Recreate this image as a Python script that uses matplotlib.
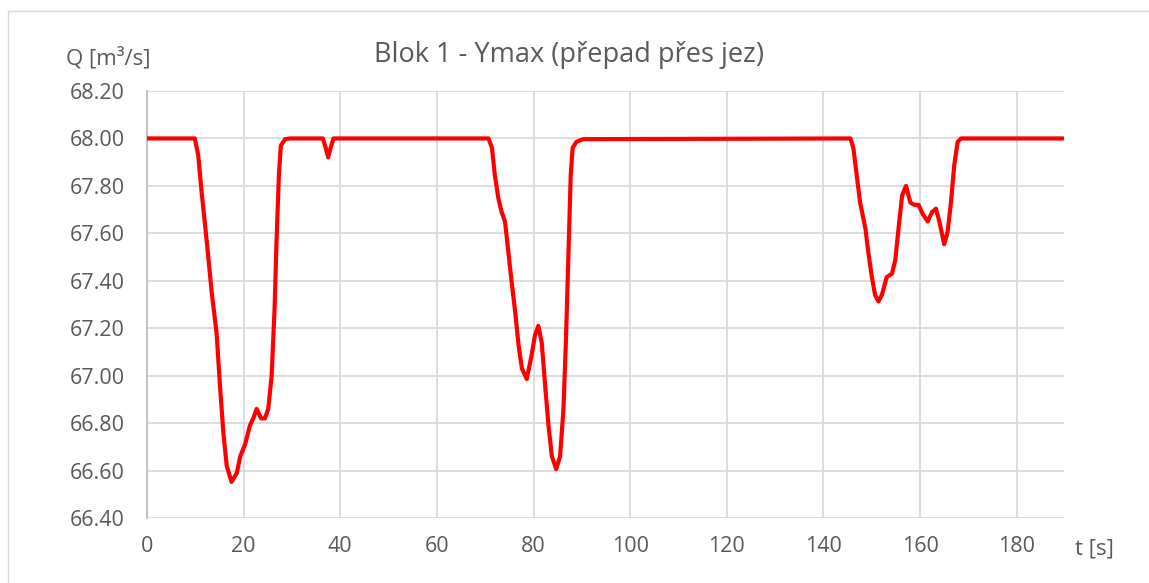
import matplotlib
matplotlib.use("Agg")
import matplotlib.pyplot as plt
from matplotlib.patches import Rectangle

# Discharge over the weir, Q [m3/s] vs time t [s]
t = [0, 9.9, 10.6, 11.3, 12.4, 13.4, 14.4, 15.1, 15.8, 16.5, 17.5, 18.6, 19.3,
     20.3, 21.3, 22.0, 22.7, 23.6, 24.4, 25.1, 25.8, 26.4, 26.8, 27.3, 27.7,
     28.6, 29.6,
     36.4, 37.0, 37.5, 38.0, 38.6,
     70.7, 71.4, 72.0, 72.7, 73.4, 74.1, 74.8, 75.5, 76.2, 76.9, 77.6, 78.6,
     79.6, 80.3, 81.0, 81.7, 82.4, 83.1, 83.8, 84.7, 85.5, 86.2, 86.7, 87.2,
     87.7, 88.1, 88.9, 90.3,
     145.6, 146.2, 146.9, 147.6, 148.7, 149.3, 150.0, 150.7, 151.4, 152.1,
     153.1, 154.2, 154.9, 155.6, 156.3, 157.1, 158.0, 158.8, 159.7, 160.6,
     161.6, 162.5, 163.3, 164.0, 165.0, 165.7, 166.4, 167.1, 167.8, 168.5,
     189.6]
q = [68.0, 68.0, 67.93, 67.775, 67.56, 67.35, 67.18, 66.96, 66.76, 66.62,
     66.552, 66.59, 66.66, 66.71, 66.79, 66.82, 66.86, 66.82, 66.82, 66.86,
     67.0, 67.28, 67.56, 67.845, 67.97, 67.997, 68.0,
     68.0, 67.96, 67.92, 67.96, 68.0,
     68.0, 67.96, 67.845, 67.75, 67.69, 67.65, 67.52, 67.39, 67.27, 67.13,
     67.03, 66.986, 67.085, 67.17, 67.21, 67.14, 66.96, 66.79, 66.66, 66.606,
     66.66, 66.86, 67.14, 67.49, 67.845, 67.96, 67.986, 67.997,
     68.0, 67.96, 67.845, 67.73, 67.62, 67.52, 67.42, 67.34, 67.313, 67.34,
     67.415, 67.43, 67.49, 67.63, 67.76, 67.80, 67.73, 67.72, 67.72, 67.68,
     67.65, 67.69, 67.704, 67.65, 67.554, 67.605, 67.73, 67.89, 67.986, 68.0,
     68.0]

title = "Blok 1 - Ymax (přepad přes jez)"
xticks = list(range(0, 181, 20))
yticks = [66.40, 66.60, 66.80, 67.00, 67.20, 67.40, 67.60, 67.80, 68.00, 68.20]

text_color = "#595959"
grid_color = "#D9D9D9"
plt.rcParams["font.family"] = ["Open Sans", "DejaVu Sans"]

fig = plt.figure(figsize=(11.49, 5.83), dpi=100)
W, H = 1149, 583
ax = fig.add_axes([147 / W, 1 - 518 / H, (1064 - 147) / W, (518 - 91) / H])

# chart-area frame
fig.patches.append(Rectangle((8 / W, -0.1), 1.2, 1 - 11 / H + 0.1,
                             transform=fig.transFigure, fill=False,
                             edgecolor="#D9D9D9", linewidth=1.0))

ax.plot(t, q, color="#FF0000", linewidth=3.0, solid_joinstyle="round",
        solid_capstyle="round", zorder=3)

ax.set_xlim(0, 189.8)
ax.set_ylim(66.40, 68.20)
ax.set_xticks(xticks)
ax.set_yticks(yticks)
ax.set_xticklabels([str(v) for v in xticks])
ax.set_yticklabels([f"{v:.2f}" for v in yticks])
ax.grid(True, color=grid_color, linewidth=1.3)
ax.set_axisbelow(True)
for s in ["top", "right", "bottom"]:
    ax.spines[s].set_visible(False)
ax.spines["left"].set_color("#BFBFBF")
ax.spines["left"].set_linewidth(1.3)
ax.tick_params(length=0, labelsize=15.5, labelcolor=text_color)
ax.tick_params(axis="y", pad=16)
ax.tick_params(axis="x", pad=13)

fig.text(569 / W, 1 - 55 / H, title, ha="center", va="center",
         fontsize=19.5, color=text_color)
fig.text(66 / W, 1 - 58 / H, "Q [m³/s]", ha="left", va="center",
         fontsize=16, color=text_color)
fig.text(1075 / W, 1 - 549 / H, "t [s]", ha="left", va="center",
         fontsize=16, color=text_color)

fig.savefig("out.png", dpi=100)
